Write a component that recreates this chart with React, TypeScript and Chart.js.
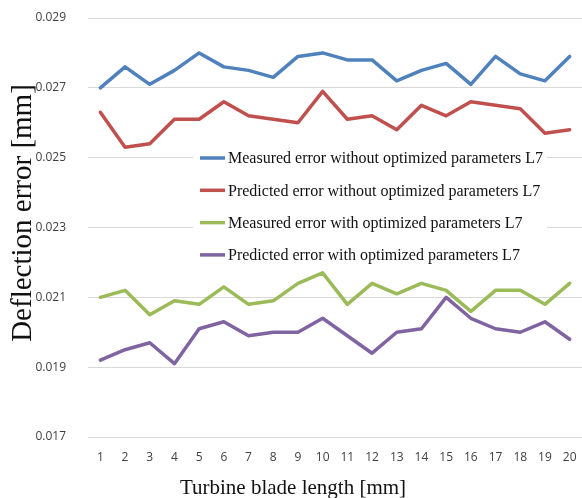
import React, { useEffect, useRef } from "react";
import { Chart, registerables } from "chart.js";

Chart.register(...registerables);

const categories = ["1","2","3","4","5","6","7","8","9","10","11","12","13","14","15","16","17","18","19","20"];

const measuredWithout = [0.0270,0.0276,0.0271,0.0275,0.0280,0.0276,0.0275,0.0273,0.0279,0.0280,0.0278,0.0278,0.0272,0.0275,0.0277,0.0271,0.0279,0.0274,0.0272,0.0279];
const predictedWithout = [0.0263,0.0253,0.0254,0.0261,0.0261,0.0266,0.0262,0.0261,0.0260,0.0269,0.0261,0.0262,0.0258,0.0265,0.0262,0.0266,0.0265,0.0264,0.0257,0.0258];
const measuredWith = [0.0210,0.0212,0.0205,0.0209,0.0208,0.0213,0.0208,0.0209,0.0214,0.0217,0.0208,0.0214,0.0211,0.0214,0.0212,0.0206,0.0212,0.0212,0.0208,0.0214];
const predictedWith = [0.0192,0.0195,0.0197,0.0191,0.0201,0.0203,0.0199,0.0200,0.0200,0.0204,0.0199,0.0194,0.0200,0.0201,0.0210,0.0204,0.0201,0.0200,0.0203,0.0198];

const seriesLabels = [
  "Measured error without optimized parameters L7",
  "Predicted error without optimized parameters L7",
  "Measured error with optimized parameters L7",
  "Predicted error with optimized parameters L7",
];
const seriesColors = ["#4f81bd", "#c0504d", "#9bbb59", "#8064a2"];

const yMin = 0.017;
const yMax = 0.029;
const yStep = 0.002;

const xTitle = "Turbine blade length [mm]";
const yTitle = "Deflection error [mm]";

const insideLegend = {
  id: "insideLegend",
  afterDatasetsDraw(chart: any) {
    const { ctx, chartArea } = chart;
    const x0 = chartArea.left + 105;
    const y0 = chartArea.top + 125;
    ctx.save();
    ctx.fillStyle = "#ffffff";
    ctx.fillRect(x0, y0, 354, 127);
    ctx.font = "16px 'Liberation Serif', 'Times New Roman', serif";
    ctx.textBaseline = "middle";
    ctx.textAlign = "left";
    chart.data.datasets.forEach((ds: any, i: number) => {
      const y = chartArea.top + 140 + i * 32.3;
      ctx.strokeStyle = ds.borderColor;
      ctx.lineWidth = 3.5;
      ctx.beginPath();
      ctx.moveTo(x0 + 7, y);
      ctx.lineTo(x0 + 32, y);
      ctx.stroke();
      ctx.fillStyle = "#111111";
      ctx.fillText(ds.label, x0 + 35, y + 1);
    });
    ctx.restore();
  },
};

export default function App() {
  const ref = useRef<HTMLCanvasElement | null>(null);
  useEffect(() => {
    if (!ref.current) return;
    const seriesData = [measuredWithout, predictedWithout, measuredWith, predictedWith];
    const chart = new Chart(ref.current, {
      type: "line",
      data: {
        labels: categories,
        datasets: seriesData.map((d, i) => ({
          label: seriesLabels[i],
          data: d,
          borderColor: seriesColors[i],
          backgroundColor: seriesColors[i],
          borderWidth: 3.5,
          pointRadius: 0,
          tension: 0,
          borderJoinStyle: "round" as const,
          borderCapStyle: "round" as const,
        })),
      },
      options: {
        animation: false,
        responsive: false,
        devicePixelRatio: 1,
        layout: { padding: { top: 18, right: 0, left: 0, bottom: 0 } },
        plugins: { legend: { display: false }, tooltip: { enabled: false } },
        scales: {
          x: {
            offset: true,
            grid: { display: true, color: "rgba(0,0,0,0)", drawTicks: true, tickLength: 13, tickColor: "rgba(0,0,0,0)" },
            border: { display: false },
            ticks: {
              color: "#404040",
              padding: 0,
              maxRotation: 0,
              autoSkip: false,
              font: { family: "'Open Sans', sans-serif", size: 12 },
            },
            title: {
              display: true,
              text: xTitle + "                ",
              color: "#111111",
              font: { family: "'Liberation Serif', 'Times New Roman', serif", size: 21 },
              padding: { top: 0, bottom: 5 },
            },
            afterFit: (scale: any) => {
              scale.height = 69;
            },
          },
          y: {
            min: yMin,
            max: yMax,
            grid: { color: "#d9d9d9", lineWidth: 1, drawTicks: true, tickLength: 22, tickColor: "rgba(0,0,0,0)" },
            border: { display: false },
            ticks: {
              stepSize: yStep,
              color: "#404040",
              padding: 0,
              font: { family: "'Open Sans', sans-serif", size: 12 },
              callback: (v: any) => Number(v).toFixed(3),
            },
            title: {
              display: true,
              text: "    " + yTitle,
              color: "#111111",
              font: { family: "'Liberation Serif', 'Times New Roman', serif", size: 29 },
              padding: { top: 6, bottom: 0 },
            },
            afterFit: (scale: any) => {
              scale.width = 88;
            },
          },
        },
      },
      plugins: [insideLegend],
    });
    return () => chart.destroy();
  }, []);
  return (
    <div style={{ position: "fixed", left: 0, top: 0, width: 582, height: 498, overflow: "hidden", background: "#fff" }}>
      <canvas ref={ref} width={582} height={506} style={{ display: "block" }} />
    </div>
  );
}
